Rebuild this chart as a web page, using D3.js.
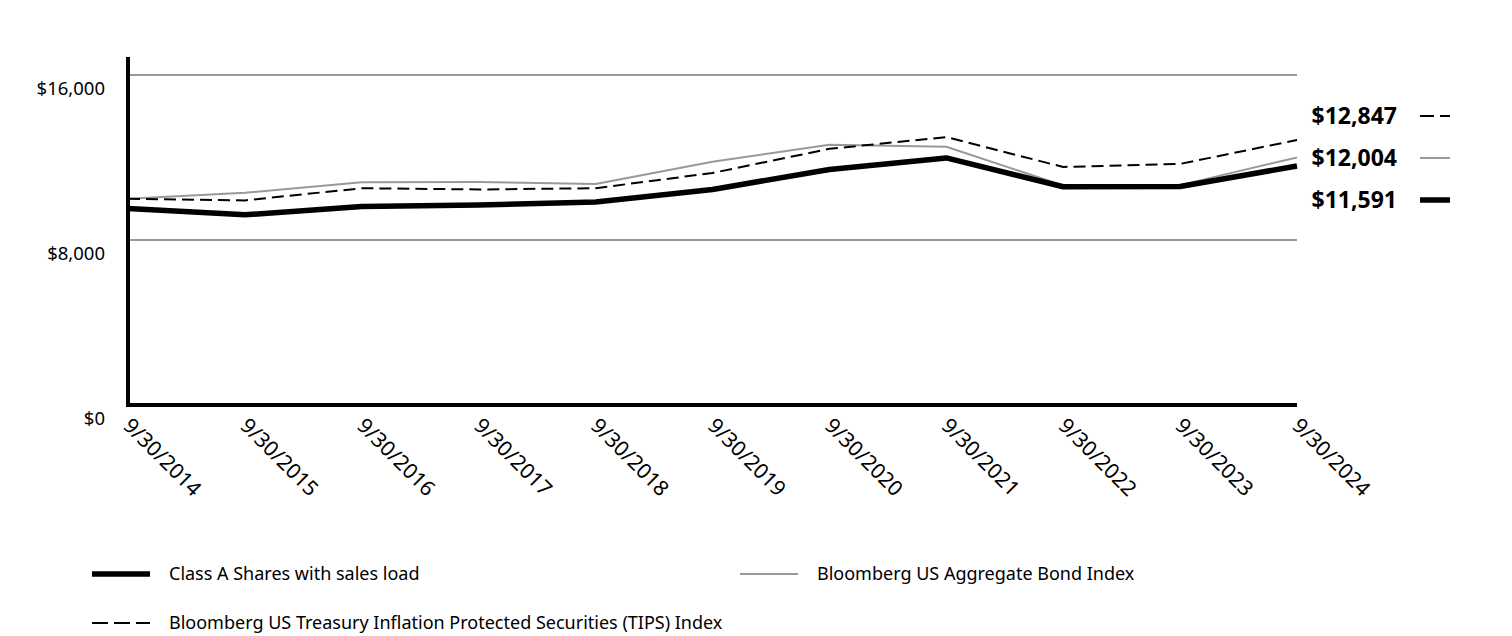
<!DOCTYPE html>
<html>
<head>
<meta charset="utf-8">
<script src="https://cdn.jsdelivr.net/npm/d3@7"></script>
<style>
  html, body { margin: 0; padding: 0; background: #fff; }
  svg { display: block; font-family: "Noto Sans", Lato, sans-serif; }
</style>
</head>
<body>
<svg id="chart" width="1512" height="636"></svg>
<script>
const dates = ["9/30/2014","9/30/2015","9/30/2016","9/30/2017","9/30/2018","9/30/2019","9/30/2020","9/30/2021","9/30/2022","9/30/2023","9/30/2024"];
const classA = [9525, 9220, 9620, 9700, 9840, 10450, 11420, 11980, 10580, 10590, 11591];
const aggBond = [10000, 10290, 10800, 10810, 10720, 11790, 12620, 12520, 10640, 10660, 12004];
const tips = [10000, 9920, 10510, 10450, 10510, 11250, 12420, 12990, 11540, 11690, 12847];
const yTicks = [0, 8000, 16000];
const yTickLabels = ["$0", "$8,000", "$16,000"];
const endLabels = ["$12,847", "$12,004", "$11,591"];
const legendNames = ["Class A Shares with sales load", "Bloomberg US Aggregate Bond Index", "Bloomberg US Treasury Inflation Protected Securities (TIPS) Index"];

const styles = {
  classA: {stroke: "#000", width: 5.5, dash: null},
  agg: {stroke: "#999", width: 2, dash: null},
  tips: {stroke: "#000", width: 2, dash: "12,6"}
};

const svg = d3.select("#chart");
const left = 128, right = 1297, bottom = 405;
const x = d3.scalePoint().domain(dates).range([left, right]);
const y = d3.scaleLinear().domain([0, 16000]).range([bottom, 75]);

// gridlines
svg.append("g").selectAll("line").data(yTicks.filter(d => d > 0)).join("line")
  .attr("x1", left).attr("x2", right)
  .attr("y1", d => y(d)).attr("y2", d => y(d))
  .attr("stroke", "#777").attr("stroke-width", 1.5);

// y tick labels
svg.append("g").selectAll("text").data(yTicks).join("text")
  .attr("x", 105).attr("y", d => y(d) + 20)
  .attr("text-anchor", "end")
  .attr("font-size", 18.5).attr("fill", "#000")
  .text((d, i) => yTickLabels[i]);

// x labels
svg.append("g").selectAll("text").data(dates).join("text")
  .attr("transform", d => `translate(${x(d) - 6},${bottom + 22}) rotate(45)`)
  .attr("text-anchor", "start")
  .attr("font-size", 21).attr("fill", "#000")
  .text(d => d);

// lines
const line = d3.line().x((d, i) => x(dates[i])).y(d => y(d));
function drawLine(data, s) {
  svg.append("path").datum(data)
    .attr("d", line).attr("fill", "none")
    .attr("stroke", s.stroke).attr("stroke-width", s.width)
    .attr("stroke-dasharray", s.dash).attr("stroke-linejoin", "round");
}
drawLine(aggBond, styles.agg);
drawLine(tips, styles.tips);
drawLine(classA, styles.classA);

// axes
svg.append("line").attr("x1", left).attr("x2", left).attr("y1", 57).attr("y2", bottom + 2)
  .attr("stroke", "#000").attr("stroke-width", 4);
svg.append("line").attr("x1", left).attr("x2", right).attr("y1", bottom).attr("y2", bottom)
  .attr("stroke", "#000").attr("stroke-width", 4);

// end labels
const endStyles = [styles.tips, styles.agg, styles.classA];
const endY = [116, 158, 200];
endLabels.forEach((t, i) => {
  svg.append("text").attr("x", 1397).attr("y", endY[i] + 8)
    .attr("text-anchor", "end").attr("font-size", 23).attr("font-weight", "bold")
    .attr("fill", "#000").text(t);
  svg.append("line").attr("x1", 1420).attr("x2", 1450)
    .attr("y1", endY[i]).attr("y2", endY[i])
    .attr("stroke", endStyles[i].stroke)
    .attr("stroke-width", endStyles[i].width)
    .attr("stroke-dasharray", endStyles[i].dash ? "14,6" : null);
});

// legend
const legendPos = [[92, 574], [740, 574], [92, 623]];
const legendStyles = [styles.classA, styles.agg, styles.tips];
legendNames.forEach((n, i) => {
  const [lx, ly] = legendPos[i];
  svg.append("line").attr("x1", lx).attr("x2", lx + 58).attr("y1", ly).attr("y2", ly)
    .attr("stroke", legendStyles[i].stroke)
    .attr("stroke-width", legendStyles[i].width)
    .attr("stroke-dasharray", legendStyles[i].dash ? "16,6" : null);
  svg.append("text").attr("x", lx + 77).attr("y", ly + 6)
    .attr("font-size", 18).attr("fill", "#000").text(n);
});
</script>
</body>
</html>
